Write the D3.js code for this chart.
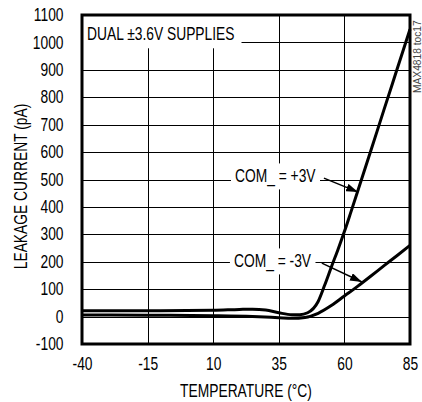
<!DOCTYPE html>
<html>
<head>
<meta charset="utf-8">
<script src="https://cdn.jsdelivr.net/npm/d3@7"></script>
<style>
  body { margin: 0; background: #fff; }
  svg text { font-family: "Liberation Sans", Arial, sans-serif; fill: #000; }
</style>
</head>
<body>
<svg id="chart"></svg>
<script>
// temperature (°C) and leakage current (pA)
const tempPlus = [-40, -15, 10, 20, 25, 30, 35, 40, 43, 46, 50, 52.5, 55, 57.5, 60, 62.5, 65, 70, 75, 80, 85];
const leakPlus = [21, 21, 23, 26, 27, 24, 14, 7, 7, 14, 55, 115, 180, 243, 310, 382, 455, 603, 752, 900, 1048];

const tempMinus = [-40, -15, 10, 25, 35, 40, 45, 50, 55, 60, 65, 70, 75, 80, 85];
const leakMinus = [6, 5, 3, 0, -4, -6, -3, 12, 40, 75, 110, 147, 185, 222, 260];

const xTicks = [-40, -15, 10, 35, 60, 85];
const yTicks = [-100, 0, 100, 200, 300, 400, 500, 600, 700, 800, 900, 1000, 1100];

const width = 422, height = 402;
const margin = {top: 15, right: 12, bottom: 58, left: 82};
const fs = 17.5, sx = 0.79;   // condensed look: Liberation Sans squeezed horizontally

const svg = d3.select('#chart').attr('width', width).attr('height', height);

const x = d3.scaleLinear().domain([-40, 85]).range([margin.left, width - margin.right]);
const y = d3.scaleLinear().domain([-100, 1100]).range([height - margin.bottom, margin.top]);

// grid
const grid = svg.append('g').attr('stroke', '#000').attr('stroke-width', 1);
grid.selectAll('.vg').data(xTicks.slice(1, -1)).enter().append('line')
    .attr('x1', d => Math.round(x(d)) + 0.5).attr('x2', d => Math.round(x(d)) + 0.5)
    .attr('y1', y(1100)).attr('y2', y(-100));
grid.selectAll('.hg').data(yTicks.slice(1, -1)).enter().append('line')
    .attr('y1', d => Math.round(y(d)) + 0.5).attr('y2', d => Math.round(y(d)) + 0.5)
    .attr('x1', x(-40)).attr('x2', x(85));

// axes (labels only)
const xAxis = svg.append('g')
    .attr('transform', `translate(0, ${y(-100)})`)
    .call(d3.axisBottom(x).tickValues(xTicks).tickSize(0).tickPadding(14).tickFormat(d => d));
const yAxis = svg.append('g')
    .attr('transform', `translate(${x(-40)}, 0)`)
    .call(d3.axisLeft(y).tickValues(yTicks).tickSize(0).tickPadding(18.5).tickFormat(d => d));
[xAxis, yAxis].forEach(a => {
  a.attr('font-family', null).attr('font-size', null);
  a.select('.domain').remove();
  a.selectAll('text')
      .attr('font-size', fs + 'px')
      .attr('x', function() { return (+this.getAttribute('x') || 0) / sx; })
      .attr('transform', `scale(${sx},1)`);
});

// squeezed text placed at a pixel point
function narrowText(parent, px, py, txt, extra) {
  return parent.append('text')
      .attr('transform', `translate(${px},${py}) ${extra || ''} scale(${sx},1)`)
      .attr('font-size', fs + 'px')
      .text(txt);
}

// curves
const line = d3.line().x(d => x(d[0])).y(d => y(d[1])).curve(d3.curveMonotoneX);
const plusData = tempPlus.map((t, i) => [t, leakPlus[i]]);
const minusData = tempMinus.map((t, i) => [t, leakMinus[i]]);

// labels with white boxes
function boxedLabel(txt, tx, ty, padX, padY, toFrame) {
  const g = svg.append('g');
  const r = g.append('rect').attr('fill', '#fff');
  narrowText(g, x(tx), y(ty), txt);
  const b = g.node().getBBox();
  if (toFrame) {
    r.attr('x', x(-40)).attr('y', y(1100))
     .attr('width', b.x + b.width + padX - x(-40)).attr('height', b.y + b.height + padY - y(1100));
  } else {
    r.attr('x', b.x - padX).attr('y', b.y - padY).attr('width', b.width + 2 * padX).attr('height', b.height + 2 * padY);
  }
}

boxedLabel('DUAL \u00B13.6V SUPPLIES', -38.1, 1009, 7, 5, true);
boxedLabel('COM_ = +3V', 18.3, 491, 4, 3, false);
boxedLabel('COM_ = -3V', 17.9, 181, 4, 3, false);

svg.append('path').datum(minusData).attr('d', line)
    .attr('fill', 'none').attr('stroke', '#000').attr('stroke-width', 3);
svg.append('path').datum(plusData).attr('d', line)
    .attr('fill', 'none').attr('stroke', '#000').attr('stroke-width', 3);

// arrows
svg.append('defs').append('marker')
    .attr('id', 'ah').attr('viewBox', '0 0 12 8').attr('refX', 12).attr('refY', 4)
    .attr('markerWidth', 12).attr('markerHeight', 8).attr('markerUnits', 'userSpaceOnUse')
    .attr('orient', 'auto')
  .append('path').attr('d', 'M0,0 L12,4 L0,8 Z').attr('fill', '#000');

const arrows = [
  {from: [52.2, 505], to: [65.2, 454]},
  {from: [51.4, 195], to: [66.7, 126]}
];
svg.selectAll('.arrow').data(arrows).enter().append('line')
    .attr('x1', d => x(d.from[0])).attr('y1', d => y(d.from[1]))
    .attr('x2', d => x(d.to[0])).attr('y2', d => y(d.to[1]))
    .attr('stroke', '#000').attr('stroke-width', 1.5).attr('marker-end', 'url(#ah)');

// frame
svg.append('rect')
    .attr('x', x(-40)).attr('y', y(1100))
    .attr('width', x(85) - x(-40)).attr('height', y(-100) - y(1100))
    .attr('fill', 'none').attr('stroke', '#000').attr('stroke-width', 3);

// axis titles
narrowText(svg, (x(-40) + x(85)) / 2, 397, 'TEMPERATURE (\u00B0C)').attr('text-anchor', 'middle');
narrowText(svg, 27, (y(-100) + y(1100)) / 2 + 7, 'LEAKAGE CURRENT (pA)', 'rotate(-90)')
    .attr('text-anchor', 'middle');

// side note
svg.append('text')
    .attr('transform', `translate(421, 93) rotate(-90) scale(0.93,1)`)
    .attr('font-size', '11px').style('fill', '#444')
    .text('MAX4818 toc17');
</script>
</body>
</html>
